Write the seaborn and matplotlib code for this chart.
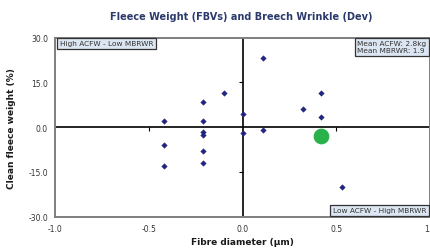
import matplotlib
matplotlib.use("Agg")
import matplotlib.pyplot as plt
import seaborn as sns
import pandas as pd

# sires: fibre diameter FBV vs clean fleece weight FBV
fibre_diameter = [-0.42, -0.42, -0.42, -0.21, -0.21, -0.21, -0.21, -0.21, -0.21,
                  -0.10, 0.0, 0.0, 0.11, 0.11, 0.32, 0.42, 0.42, 0.53]
fleece_weight = [2.1, -5.9, -12.9, 8.3, 2.1, -1.7, -2.6, -8.1, -12.0,
                 11.3, 4.3, -1.9, 23.1, -1.0, 6.1, 11.3, 3.3, -20.0]

# highlighted sire
hl_fd = [0.42]
hl_cfw = [-2.9]

x_ticks = [-1.0, -0.5, 0.0, 0.5, 1.0]
y_ticks = [-30.0, -15.0, 0.0, 15.0, 30.0]

df = pd.DataFrame({"fd": fibre_diameter, "cfw": fleece_weight})
hl = pd.DataFrame({"fd": hl_fd, "cfw": hl_cfw})

sns.set_style("white")
plt.rcParams['font.family'] = ['DejaVu Sans']

fig = plt.figure(figsize=(4.3, 2.51), dpi=100)
ax = fig.add_axes([55 / 430, 33.3 / 251, 1 - 55 / 430, 179.2 / 251])

sns.scatterplot(data=df, x="fd", y="cfw", ax=ax, marker="D", s=8,
                color="#1f2480", edgecolor="#1f2480", linewidth=0.3, zorder=4)
sns.scatterplot(data=hl, x="fd", y="cfw", ax=ax, marker="o", s=110,
                color="#2ab24a", edgecolor="#2ab24a", zorder=5)

ax.set_xlim(-1.0, 1.0)
ax.set_ylim(-30, 30)
ax.set_xticks(x_ticks)
ax.set_yticks(y_ticks)
ax.set_xticklabels([f"{v:.1f}" for v in x_ticks])
ax.set_yticklabels([f"{v:.1f}" for v in y_ticks])
ax.tick_params(length=0, labelsize=5.5, colors="#333333", pad=5)

for side in ["left", "bottom", "top", "right"]:
    ax.spines[side].set_color("#7f7f7f")
    ax.spines[side].set_linewidth(1.4)

# axes crossing at zero with small ticks
ax.axhline(0, color="black", lw=1.2, zorder=2)
ax.axvline(0, color="black", lw=1.2, zorder=2)
ax.plot([-0.5, 0.5], [0, 0], linestyle="none", marker=3, ms=3, mew=0.8, color="black")
ax.plot([0, 0], [-15, 15], linestyle="none", marker=0, ms=3, mew=0.8, color="black")

box = dict(boxstyle="square,pad=0.35", facecolor="#dce6f2", edgecolor="#333333", linewidth=0.9)
ax.text(0.012, 0.985, "High ACFW - Low MBRWR", transform=ax.transAxes, ha="left", va="top",
        fontsize=5.3, color="#333333", bbox=box)
ax.text(0.99, 0.985, "Mean ACFW: 2.8kg\nMean MBRWR: 1.9", transform=ax.transAxes, ha="right",
        va="top", fontsize=5.3, color="#333333", linespacing=1.2, multialignment="left", bbox=box)
ax.text(0.99, 0.018, "Low ACFW - High MBRWR", transform=ax.transAxes, ha="right", va="bottom",
        fontsize=5.3, color="#333333", bbox=box)

ax.set_xlabel("Fibre diameter (µm)", fontsize=6.5, color="#1a1a1a", fontweight="semibold", labelpad=3)
ax.set_ylabel("Clean fleece weight (%)", fontsize=6.5, color="#1a1a1a", fontweight="semibold")
ax.yaxis.set_label_coords(-0.105, 0.5)

fig.text(0.56, 0.932, "Fleece Weight (FBVs) and Breech Wrinkle (Dev)", ha="center", va="center",
         fontsize=7, color="#2b3a6b", fontweight="semibold")

fig.savefig("out.png", dpi=100)
